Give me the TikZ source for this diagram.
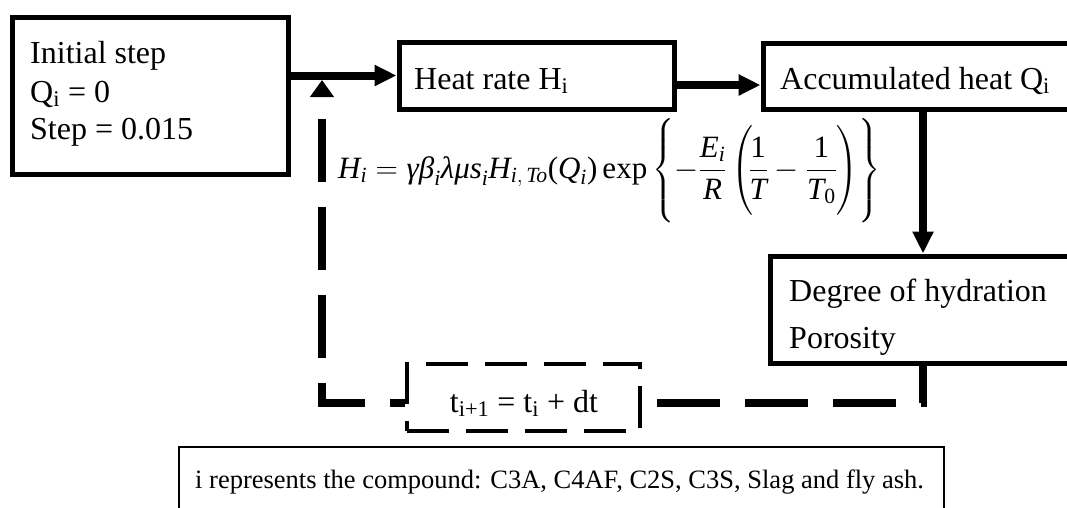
\RequirePackage{fix-cm}
\documentclass[tikz,border=0pt]{standalone}
\usepackage{amsmath}
\usepackage{fontspec}
\setmainfont{Liberation Serif}
\usetikzlibrary{arrows.meta}
\newcommand\mvar[1]{\textit{#1}}
\newcommand\bracestrut{\rule[-39pt]{0pt}{94pt}}
\newcommand\parenstrut{\rule[-35pt]{0pt}{85pt}}
\tikzset{
  box/.style={draw, line width=5pt, rectangle, inner sep=0pt},
  dbox/.style={draw, line width=4.5pt, rectangle, inner sep=0pt, dash pattern=on 42pt off 17pt},
  notebox/.style={draw, line width=2pt, rectangle, inner sep=0pt},
  txt/.style={anchor=base west, inner sep=0pt, font=\fontsize{32}{38}\selectfont},
  mathtxt/.style={anchor=base west, inner sep=0pt, font=\fontsize{31}{37}\selectfont},
  smalltxt/.style={anchor=base west, inner sep=0pt, font=\fontsize{26.5}{32}\selectfont},
  arr/.style={line width=8pt, -{Triangle[length=22pt,width=20pt]}},
  looppath/.style={line width=7.5pt, dash pattern=on 63pt off 25pt},
}
\begin{document}
\begin{tikzpicture}[x=1pt,y=-1pt]
\useasboundingbox (0,0) rectangle (1067,507);
\clip (0,0) rectangle (1067,507);
% boxes
\node[box, minimum width=276pt, minimum height=157pt] (init) at (150,95.5) {};
\node[box, minimum width=275pt, minimum height=67pt] (heat) at (536.5,75.5) {};
\node[box, minimum width=317pt, minimum height=66pt] (acc) at (921.5,76) {};
\node[box, minimum width=310pt, minimum height=107pt] (deg) at (925,309.5) {};
\node[dbox, minimum width=233pt, minimum height=67pt] (tbox) at (523.5,397.5) {};
\node[notebox, minimum width=765pt, minimum height=93pt] (note) at (561.5,493.5) {};
% texts
\node[txt] (t1) at (30,63) {Initial step};
\node[txt] (t2) at (30,102) {Q\textsubscript{i} = 0};
\node[txt] (t3) at (30,139) {Step = 0.015};
\node[txt] (theat) at (414,89) {Heat rate H\textsubscript{i}};
\node[txt] (tacc) at (780,89) {Accumulated heat Q\textsubscript{i}};
\node[txt] (tdeg1) at (789,301) {Degree of hydration};
\node[txt] (tdeg2) at (789,348) {Porosity};
\node[txt, anchor=base] (tt) at (524,412) {t\textsubscript{i+1} = t\textsubscript{i} + dt};
\node[mathtxt] (formula) at (338,178) {\delimiterfactor=1000 \delimitershortfall=0pt $\displaystyle \mvar{H}_{\mvar{i}}=\mvar{γβ}_{\mvar{i}}\mvar{λμs}_{\mvar{i}}\mvar{H}_{\mvar{i},\mkern3mu\mvar{To}}\textrm{(}\mvar{Q}_{\mvar{i}}\textrm{)}\,\textrm{exp}\left\{\bracestrut{-}\frac{\mvar{E}_{\mvar{i}}}{\mvar{R}}\left(\parenstrut\!\frac{\textrm{1}}{\mvar{T}}-\frac{\textrm{1}}{\mvar{T}_{\textrm{0}}}\right)\right\}$};
\node[smalltxt] (tnote) at (195,488) {i represents the compound: C3A, C4AF, C2S, C3S, Slag and fly ash.};
% helper coordinates
\coordinate (colx) at (923,0);
\coordinate (leftx) at (322,0);
\coordinate (loopy) at (0,403);
\coordinate (a2y) at (0,85);
\coordinate (uptip) at (322,80);
% connectors
\draw[arr] (init.east |- heat.west) -- (heat.west);
\draw[arr] (heat.east |- a2y) -- (acc.west |- a2y);
\draw[arr] (acc.south -| colx) -- (deg.north -| colx);
\draw[looppath, dash phase=23pt] (deg.south -| colx) -- (colx |- loopy) -- (tbox.east |- loopy);
\draw[looppath, dash phase=48pt, -{Triangle[length=17pt,width=23pt]}] (tbox.west |- loopy) -- (leftx |- loopy) -- (uptip);
\end{tikzpicture}
\end{document}
